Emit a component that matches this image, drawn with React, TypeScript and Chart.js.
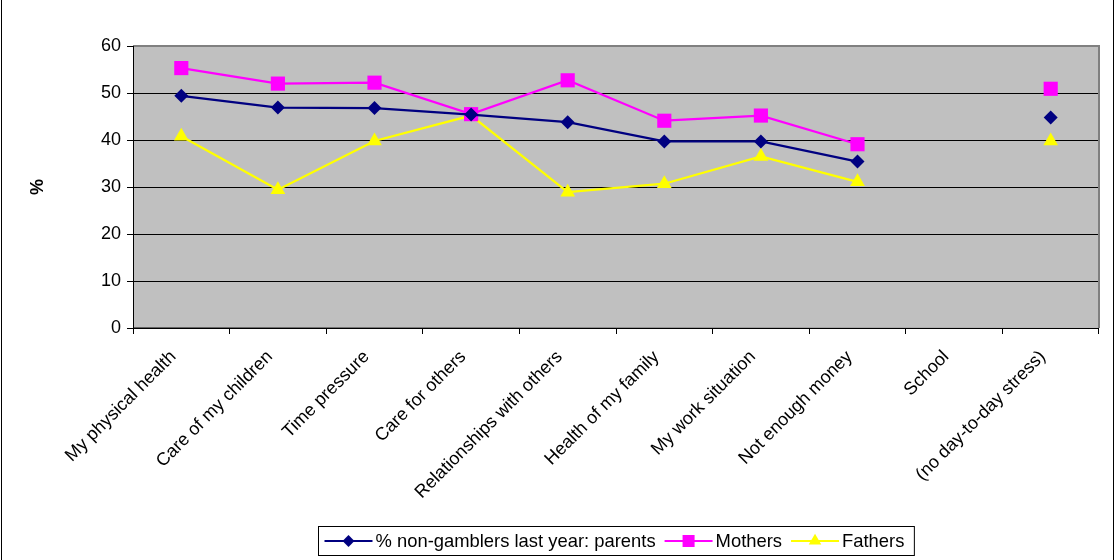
import React, { useEffect, useRef } from "react";
import { Chart, registerables } from "chart.js";

Chart.register(...registerables);

const categories = [
  "My physical health",
  "Care of my children",
  "Time pressure",
  "Care for others",
  "Relationships with others",
  "Health of my family",
  "My work situation",
  "Not enough money",
  "School",
  "(no day-to-day stress)",
];

const parents = [49.4, 46.9, 46.8, 45.4, 43.8, 39.7, 39.7, 35.4, null, 44.8];
const mothers = [55.3, 52.0, 52.2, 45.5, 52.7, 44.1, 45.2, 39.1, null, 50.9];
const fathers = [40.8, 29.4, 39.8, 45.2, 28.9, 30.7, 36.5, 31.1, null, 39.8];

const yTicks = [0, 10, 20, 30, 40, 50, 60];

const seriesNames = ["% non-gamblers last year: parents", "Mothers", "Fathers"];
const seriesColors = ["#000080", "#FF00FF", "#FFFF00"];
const seriesShapes = ["rectRot", "rect", "triangle"];
const seriesRadius = [7, 10, 8.5];

const FONT = "'Liberation Sans', Arial, sans-serif";
const TICK_SIZE = 18;
const LEGEND_SIZE = 18.4;

function drawShape(ctx: CanvasRenderingContext2D, shape: string, x: number, y: number, r: number, color: string) {
  ctx.save();
  ctx.fillStyle = color;
  ctx.beginPath();
  if (shape === "rectRot") {
    ctx.moveTo(x - r, y);
    ctx.lineTo(x, y - r);
    ctx.lineTo(x + r, y);
    ctx.lineTo(x, y + r);
  } else if (shape === "rect") {
    const s = r * Math.SQRT1_2;
    ctx.rect(x - s, y - s, 2 * s, 2 * s);
  } else {
    ctx.moveTo(x, y - r);
    ctx.lineTo(x + r * Math.sin((2 * Math.PI) / 3), y - r * Math.cos((2 * Math.PI) / 3));
    ctx.lineTo(x + r * Math.sin((4 * Math.PI) / 3), y - r * Math.cos((4 * Math.PI) / 3));
  }
  ctx.closePath();
  ctx.fill();
  ctx.restore();
}

const decorPlugin = {
  id: "decor",
  beforeDraw(chart: any) {
    const { ctx, chartArea: a } = chart;
    ctx.save();
    ctx.fillStyle = "#FFFFFF";
    ctx.fillRect(0, 0, chart.width, chart.height);
    ctx.fillStyle = "#C0C0C0";
    ctx.fillRect(a.left, a.top, a.right - a.left, a.bottom - a.top);
    ctx.strokeStyle = "#000000";
    ctx.lineWidth = 1;
    ctx.beginPath();
    ctx.moveTo(1.5, 0);
    ctx.lineTo(1.5, chart.height);
    ctx.moveTo(1113.5, 0);
    ctx.lineTo(1113.5, chart.height);
    ctx.stroke();
    ctx.restore();
  },
  beforeDatasetsDraw(chart: any) {
    const { ctx, chartArea: a } = chart;
    ctx.save();
    ctx.strokeStyle = "#808080";
    ctx.lineWidth = 2;
    ctx.beginPath();
    ctx.moveTo(a.left, a.top);
    ctx.lineTo(a.right, a.top);
    ctx.lineTo(a.right, a.bottom);
    ctx.stroke();
    ctx.strokeStyle = "#000000";
    ctx.lineWidth = 1;
    ctx.beginPath();
    ctx.moveTo(a.left + 0.5, a.top);
    ctx.lineTo(a.left + 0.5, a.bottom);
    ctx.lineTo(a.right, a.bottom + 0.5);
    ctx.stroke();
    ctx.restore();

    // y title
    ctx.save();
    ctx.fillStyle = "#000000";
    ctx.font = `bold ${TICK_SIZE}px ${FONT}`;
    ctx.textAlign = "center";
    ctx.textBaseline = "middle";
    ctx.translate(38, 187);
    ctx.rotate(-Math.PI / 2);
    ctx.fillText("%", 0, 0);
    ctx.restore();

    // rotated category labels
    const xs = chart.scales.x;
    ctx.save();
    ctx.fillStyle = "#000000";
    ctx.font = `${TICK_SIZE}px ${FONT}`;
    ctx.textAlign = "right";
    ctx.textBaseline = "middle";
    categories.forEach((c, i) => {
      const px = xs.getPixelForValue(i);
      ctx.save();
      ctx.translate(px - 8, a.bottom + 26);
      ctx.rotate(-Math.PI / 4);
      ctx.fillText(c, 0, 0);
      ctx.restore();
    });
    ctx.restore();
  },
  afterDraw(chart: any) {
    const { ctx } = chart;
    ctx.save();
    ctx.font = `${LEGEND_SIZE}px ${FONT}`;
    const lineLen = 48;
    const padL = 6;
    const gapLineText = 3;
    const gapItems = 9;
    const padR = 10;
    let total = padL;
    const widths = seriesNames.map((n) => ctx.measureText(n).width);
    widths.forEach((w, i) => {
      total += lineLen + gapLineText + w + (i < widths.length - 1 ? gapItems : 0);
    });
    total += padR;
    const cx = 615.5;
    const left = Math.round(cx - total / 2) + 0.5;
    const top = 526.5;
    const h = 29;
    const cy = top + h / 2;
    ctx.fillStyle = "#FFFFFF";
    ctx.fillRect(left, top, total, h);
    ctx.strokeStyle = "#000000";
    ctx.lineWidth = 1;
    ctx.strokeRect(left, top, total, h);
    let x = left + padL;
    seriesNames.forEach((n, i) => {
      ctx.strokeStyle = seriesColors[i];
      ctx.lineWidth = 2;
      ctx.beginPath();
      ctx.moveTo(x, cy);
      ctx.lineTo(x + lineLen, cy);
      ctx.stroke();
      drawShape(ctx, seriesShapes[i], x + lineLen / 2, cy, seriesRadius[i] * 0.85, seriesColors[i]);
      x += lineLen + gapLineText;
      ctx.fillStyle = "#000000";
      ctx.textAlign = "left";
      ctx.textBaseline = "middle";
      ctx.fillText(n, x, cy + 1);
      x += widths[i] + gapItems;
    });
    ctx.restore();
  },
};

export default function App() {
  const ref = useRef<HTMLCanvasElement | null>(null);
  useEffect(() => {
    if (!ref.current) return;
    const data = [parents, mothers, fathers];
    const chart = new Chart(ref.current, {
      type: "line",
      data: {
        labels: categories,
        datasets: seriesNames.map((name, i) => ({
          label: name,
          data: data[i],
          borderColor: seriesColors[i],
          backgroundColor: seriesColors[i],
          borderWidth: 2.25,
          pointStyle: seriesShapes[i] as any,
          pointRadius: seriesRadius[i],
          pointBorderWidth: 0,
          pointBackgroundColor: seriesColors[i],
          pointBorderColor: seriesColors[i],
          tension: 0,
          spanGaps: false,
          fill: false,
        })),
      },
      options: {
        responsive: false,
        animation: false,
        layout: { padding: { left: 0, top: 46, right: 18, bottom: 0 } },
        plugins: {
          legend: { display: false },
          tooltip: { enabled: false },
        },
        scales: {
          x: {
            type: "category",
            offset: true,
            grid: {
              offset: true,
              drawOnChartArea: false,
              drawTicks: true,
              tickLength: 6,
              color: "#000000",
            },
            border: { display: false },
            ticks: {
              display: false,
              autoSkip: false,
            },
            afterFit: (s: any) => {
              s.height = 232;
            },
          },
          y: {
            min: 0,
            max: 60,
            afterBuildTicks: (s: any) => {
              s.ticks = yTicks.map((v) => ({ value: v }));
            },
            grid: {
              color: "#000000",
              lineWidth: 1,
              drawTicks: true,
              tickLength: 6,
            },
            border: { display: false },
            ticks: {
              padding: 6,
              color: "#000000",
              font: { family: FONT, size: TICK_SIZE },
            },
            title: { display: false },
            afterFit: (s: any) => {
              s.width = 133;
            },
          },
        },
      },
      plugins: [decorPlugin],
    });
    return () => chart.destroy();
  }, []);
  return (
    <div style={{ position: "absolute", left: 0, top: 0, width: 1117, height: 560 }}>
      <canvas ref={ref} width={1117} height={560} style={{ width: 1117, height: 560 }} />
    </div>
  );
}
